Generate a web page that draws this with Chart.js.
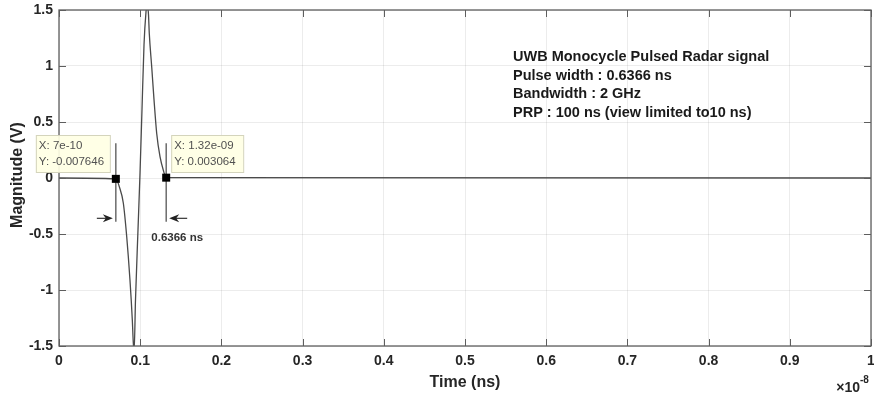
<!DOCTYPE html>
<html>
<head>
<meta charset="utf-8">
<script src="https://cdn.jsdelivr.net/npm/chart.js@4.4.1/dist/chart.umd.min.js"></script>
<style>
  html, body { margin: 0; padding: 0; background: #ffffff; }
  #wrap { position: relative; width: 874px; height: 396px; }
</style>
</head>
<body>
<div id="wrap"><canvas id="c" width="874" height="396"></canvas></div>
<script>
// ---- data (time in units of 1e-8 s, magnitude in V) ----
const timeVals = [0, 0.07, 0.0743, 0.0792, 0.0834, 0.0874, 0.0903, 0.0915, 0.0925, 0.0942, 0.0973, 0.0998, 0.1022, 0.1047, 0.1071, 0.1084, 0.1102, 0.1112, 0.1142, 0.117, 0.1203, 0.1244, 0.1284, 0.132, 1.0];
const magVals  = [0, -0.007646, -0.078, -0.223, -0.524, -0.91, -1.27, -1.47, -1.55, -1.09, -0.46, 0.05, 0.61, 1.19, 1.48, 1.55, 1.46, 1.29, 0.99, 0.70, 0.40, 0.19, 0.071, 0.003064, 0];

const xTickVals = [0, 0.1, 0.2, 0.3, 0.4, 0.5, 0.6, 0.7, 0.8, 0.9, 1];
const yTickVals = [-1.5, -1, -0.5, 0, 0.5, 1, 1.5];

const tipX = [0.07, 0.132];
const tipY = [-0.007646, 0.003064];
const tipLines = [["X: 7e-10", "Y: -0.007646"], ["X: 1.32e-09", "Y: 0.003064"]];
const widthLabel = "0.6366 ns";
const infoLines = [
  "UWB Monocycle Pulsed Radar signal",
  "Pulse width : 0.6366 ns",
  "Bandwidth : 2 GHz",
  "PRP : 100 ns (view limited to10 ns)"
];
const xTitle = "Time (ns)";
const yTitle = "Magnitude (V)";
const xExponent = "-8";

const FONT = "'Liberation Sans', Arial, sans-serif";
const axisColor = "#5e5e5e";
const textColor = "#262626";

const points = timeVals.map((t, i) => ({ x: t, y: magVals[i] }));

const overlay = {
  id: 'overlay',
  afterDraw(chart) {
    const ctx = chart.ctx;
    const xs = chart.scales.x, ys = chart.scales.y, ca = chart.chartArea;
    ctx.save();

    // inward ticks
    ctx.strokeStyle = axisColor;
    ctx.lineWidth = 1;
    xTickVals.forEach(v => {
      const px = Math.round(xs.getPixelForValue(v)) + 0.5;
      ctx.beginPath();
      ctx.moveTo(px, ca.bottom); ctx.lineTo(px, ca.bottom - 7);
      ctx.moveTo(px, ca.top); ctx.lineTo(px, ca.top + 7);
      ctx.stroke();
    });
    yTickVals.forEach(v => {
      const py = Math.round(ys.getPixelForValue(v)) + 0.5;
      ctx.beginPath();
      ctx.moveTo(ca.left, py); ctx.lineTo(ca.left + 7, py);
      ctx.moveTo(ca.right, py); ctx.lineTo(ca.right - 7, py);
      ctx.stroke();
    });
    // box
    ctx.lineWidth = 1.3;
    ctx.strokeRect(ca.left, ca.top, ca.right - ca.left, ca.bottom - ca.top);

    // data tips
    const yTop = ys.getPixelForValue(0.31), yBot = ys.getPixelForValue(-0.39);
    const yArr = ys.getPixelForValue(-0.36);
    const pxs = tipX.map(v => xs.getPixelForValue(v));
    const pys = tipY.map(v => ys.getPixelForValue(v));
    ctx.strokeStyle = "#555555";
    ctx.lineWidth = 1.3;
    pxs.forEach(px => {
      ctx.beginPath();
      ctx.moveTo(px, yTop); ctx.lineTo(px, yBot);
      ctx.stroke();
    });
    // arrows
    function arrow(x0, x1, y) {
      const dir = Math.sign(x1 - x0);
      ctx.strokeStyle = "#333";
      ctx.lineWidth = 1.2;
      ctx.beginPath(); ctx.moveTo(x0, y); ctx.lineTo(x1 - dir * 4, y); ctx.stroke();
      ctx.fillStyle = "#222";
      ctx.beginPath();
      ctx.moveTo(x1, y);
      ctx.lineTo(x1 - dir * 10, y - 4);
      ctx.lineTo(x1 - dir * 7, y);
      ctx.lineTo(x1 - dir * 10, y + 4);
      ctx.closePath();
      ctx.fill();
    }
    arrow(pxs[0] - 19, pxs[0] - 3, yArr);
    arrow(pxs[1] + 21, pxs[1] + 3, yArr);
    ctx.fillStyle = "#333";
    ctx.font = "bold 11.5px " + FONT;
    ctx.textAlign = "center";
    ctx.textBaseline = "middle";
    ctx.fillText(widthLabel, pxs[1] + 11, ys.getPixelForValue(-0.53));

    // markers
    ctx.fillStyle = "#000";
    pxs.forEach((px, i) => ctx.fillRect(px - 4, pys[i] - 4, 8, 8));

    // tip boxes
    ctx.font = "11.5px " + FONT;
    ctx.textAlign = "left";
    pxs.forEach((px, i) => {
      const py = ys.getPixelForValue(0);
      const w = i === 0 ? 74 : 72;
      const bx = i === 0 ? px - 80 : px + 5;
      const by = py - 43, bh = 37;
      ctx.fillStyle = "rgba(255,255,228,0.92)";
      ctx.fillRect(bx, by, w, bh);
      ctx.strokeStyle = "#d4d4bc";
      ctx.lineWidth = 1;
      ctx.strokeRect(bx + 0.5, by + 0.5, w, bh);
      ctx.fillStyle = "#505050";
      ctx.fillText(tipLines[i][0], bx + 3, by + 11);
      ctx.fillText(tipLines[i][1], bx + 3, by + 27);
    });

    // info text
    ctx.fillStyle = "#1a1a1a";
    ctx.font = "bold 14.5px " + FONT;
    infoLines.forEach((s, i) => ctx.fillText(s, 513, 57 + i * 18.7));

    // axis titles
    ctx.fillStyle = textColor;
    ctx.font = "bold 16px " + FONT;
    ctx.textAlign = "center";
    ctx.fillText(xTitle, (ca.left + ca.right) / 2, 383);
    ctx.save();
    ctx.translate(18, (ca.top + ca.bottom) / 2 - 3);
    ctx.rotate(-Math.PI / 2);
    ctx.fillText(yTitle, 0, 0);
    ctx.restore();

    // exponent
    ctx.textAlign = "right";
    ctx.font = "bold 14px " + FONT;
    ctx.fillText("\u00d710", 860, 388);
    ctx.textAlign = "left";
    ctx.font = "bold 10px " + FONT;
    ctx.fillText(xExponent, 860, 380);

    ctx.restore();
  }
};

new Chart(document.getElementById('c'), {
  type: 'line',
  data: {
    datasets: [{
      data: points,
      borderColor: '#4a4a4a',
      borderWidth: 1.3,
      pointRadius: 0,
      fill: false,
      cubicInterpolationMode: 'monotone'
    }]
  },
  options: {
    responsive: false,
    animation: false,
    events: [],
    layout: { padding: { top: 10, right: 3, left: 0, bottom: 0 } },
    plugins: { legend: { display: false }, tooltip: { enabled: false }, title: { display: false } },
    scales: {
      x: {
        type: 'linear', min: 0, max: 1,
        afterBuildTicks(scale) { scale.ticks = xTickVals.map(v => ({ value: v })); },
        afterFit(scale) { scale.height = 50; scale.paddingLeft = 0; scale.paddingRight = 0; },
        border: { display: false },
        grid: { color: 'rgba(0,0,0,0.075)', drawTicks: false, lineWidth: 1 },
        ticks: {
          padding: 7,
          color: textColor,
          font: { family: FONT, size: 14, weight: 'bold' },
          maxRotation: 0,
          callback: v => String(Math.round(v * 10) / 10)
        }
      },
      y: {
        type: 'linear', min: -1.5, max: 1.5,
        afterBuildTicks(scale) { scale.ticks = yTickVals.map(v => ({ value: v })); },
        afterFit(scale) { scale.width = 59; scale.paddingTop = 0; scale.paddingBottom = 0; },
        border: { display: false },
        grid: { color: 'rgba(0,0,0,0.075)', drawTicks: false, lineWidth: 1 },
        ticks: {
          padding: 6,
          color: textColor,
          font: { family: FONT, size: 14, weight: 'bold' },
          callback: v => String(v)
        }
      }
    }
  },
  plugins: [overlay]
});
</script>
</body>
</html>
